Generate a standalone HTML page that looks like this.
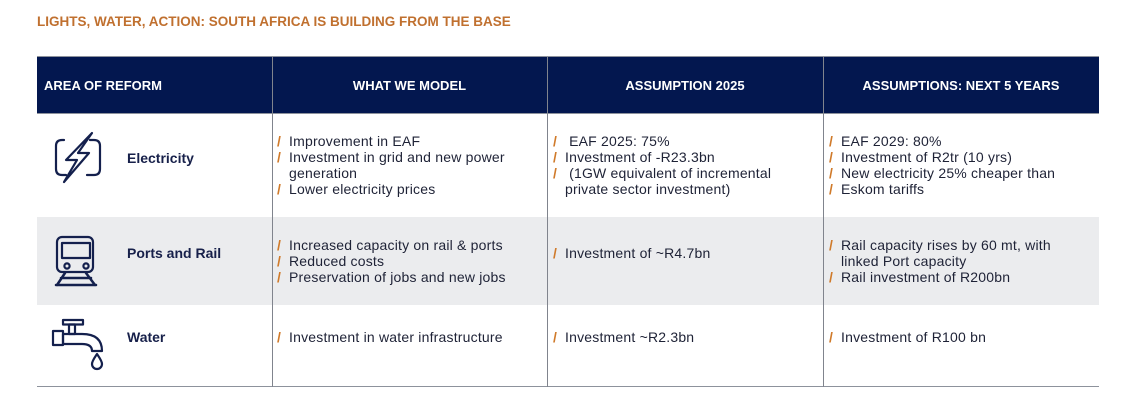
<!DOCTYPE html>
<html>
<head>
<meta charset="utf-8">
<style>
  html,body{margin:0;padding:0;background:#fff;}
  body{width:1124px;height:404px;position:relative;overflow:hidden;font-family:"Liberation Sans",Arial,sans-serif;}
  .title{position:absolute;left:37px;top:14px;font-size:13.5px;line-height:16px;font-weight:bold;color:#c0702f;white-space:nowrap;}
  .hdr{position:absolute;left:37px;top:57px;width:1062px;height:56px;background:#03174f;}
  .hline{position:absolute;left:37px;width:1062px;height:1px;background:#8d929c;}
  .vline{position:absolute;top:57px;width:1px;height:330px;background:#80848d;}
  .gray{position:absolute;left:37px;top:217px;width:1062px;height:88px;background:#ebecee;}
  .ht{position:absolute;top:78px;font-size:13px;line-height:16px;font-weight:bold;color:#fff;white-space:nowrap;}
  .ht.c{text-align:center;}
  .lab{position:absolute;left:127px;font-size:14px;line-height:16px;font-weight:bold;color:#17204a;white-space:nowrap;}
  .blk{position:absolute;font-size:14px;line-height:16px;color:#1e2236;letter-spacing:0.2px;white-space:nowrap;}
  .it{position:relative;padding-left:12px;}
  .it .s{position:absolute;left:0;top:0;color:#d07a2a;font-weight:600;}
  svg{position:absolute;left:0;top:0;}
</style>
</head>
<body>
<div class="title">LIGHTS, WATER, ACTION: SOUTH AFRICA IS BUILDING FROM THE BASE</div>

<div class="gray"></div>
<div class="hdr"></div>
<div class="hline" style="top:56px;"></div>
<div class="hline" style="top:113px;"></div>
<div class="hline" style="top:386px;"></div>
<div class="vline" style="left:272px;"></div>
<div class="vline" style="left:547px;"></div>
<div class="vline" style="left:823px;"></div>

<div class="ht" style="left:44px;">AREA OF REFORM</div>
<div class="ht c" style="left:272px;width:275px;">WHAT WE MODEL</div>
<div class="ht c" style="left:547px;width:276px;">ASSUMPTION 2025</div>
<div class="ht c" style="left:823px;width:276px;">ASSUMPTIONS: NEXT 5 YEARS</div>

<svg width="1124" height="404" viewBox="0 0 1124 404">
  <g fill="none" stroke="#14204d" stroke-width="2.2" stroke-linejoin="round" stroke-linecap="round">
    <!-- electricity -->
    <path d="M64 140 H62 Q56 140 56 146 V169 Q56 175 62 175 H66"/>
    <path d="M90 140 H94 Q100 140 100 146 V169 Q100 175 94 175 H87"/>
    <path d="M92 133 L66 160 L77 160 L64 182 L89 153 L78 153 Z"/>
    <!-- train -->
    <rect x="57" y="237" width="36" height="35" rx="5"/>
    <rect x="62" y="243" width="28" height="15"/>
    <circle cx="67" cy="266" r="2.6"/>
    <circle cx="86" cy="266" r="2.6"/>
    <path d="M65 273 L57 285 M86 273 L95 285 M61 278 H91 M56 285 H96" stroke-width="2.5"/>
    <!-- tap -->
    <rect x="63" y="320" width="20" height="4.5"/>
    <rect x="69" y="324.5" width="6" height="9.5"/>
    <path d="M63 334 H82 Q102 334 102 351 H92 Q92 344 82 344 H63 Z"/>
    <rect x="53" y="331" width="10" height="14"/>
    <path d="M97 354 C95 357 92 361 92 364 A5 5 0 0 0 102 364 C102 361 99 357 97 354 Z"/>
  </g>
</svg>

<div class="lab" style="top:150px;">Electricity</div>
<div class="lab" style="top:245px;">Ports and Rail</div>
<div class="lab" style="top:329px;">Water</div>

<!-- Row 1 -->
<div class="blk" style="left:277px;top:133px;">
  <div class="it"><span class="s">/</span>Improvement in EAF</div>
  <div class="it"><span class="s">/</span>Investment in grid and new power<br>generation</div>
  <div class="it"><span class="s">/</span>Lower electricity prices</div>
</div>
<div class="blk" style="left:553px;top:133px;">
  <div class="it"><span class="s">/</span>&nbsp;EAF 2025: 75%</div>
  <div class="it"><span class="s">/</span>Investment of -R23.3bn</div>
  <div class="it"><span class="s">/</span>&nbsp;(1GW equivalent of incremental<br>private sector investment)</div>
</div>
<div class="blk" style="left:829px;top:133px;">
  <div class="it"><span class="s">/</span>EAF 2029: 80%</div>
  <div class="it"><span class="s">/</span>Investment of R2tr (10 yrs)</div>
  <div class="it"><span class="s">/</span>New electricity 25% cheaper than</div>
  <div class="it"><span class="s">/</span>Eskom tariffs</div>
</div>

<!-- Row 2 -->
<div class="blk" style="left:277px;top:237px;">
  <div class="it"><span class="s">/</span>Increased capacity on rail &amp; ports</div>
  <div class="it"><span class="s">/</span>Reduced costs</div>
  <div class="it"><span class="s">/</span>Preservation of jobs and new jobs</div>
</div>
<div class="blk" style="left:553px;top:245px;">
  <div class="it"><span class="s">/</span>Investment of ~R4.7bn</div>
</div>
<div class="blk" style="left:829px;top:237px;">
  <div class="it"><span class="s">/</span>Rail capacity rises by 60 mt, with<br>linked Port capacity</div>
  <div class="it"><span class="s">/</span>Rail investment of R200bn</div>
</div>

<!-- Row 3 -->
<div class="blk" style="left:277px;top:329px;">
  <div class="it"><span class="s">/</span>Investment in water infrastructure</div>
</div>
<div class="blk" style="left:553px;top:329px;">
  <div class="it"><span class="s">/</span>Investment ~R2.3bn</div>
</div>
<div class="blk" style="left:829px;top:329px;">
  <div class="it"><span class="s">/</span>Investment of R100 bn</div>
</div>
</body>
</html>
